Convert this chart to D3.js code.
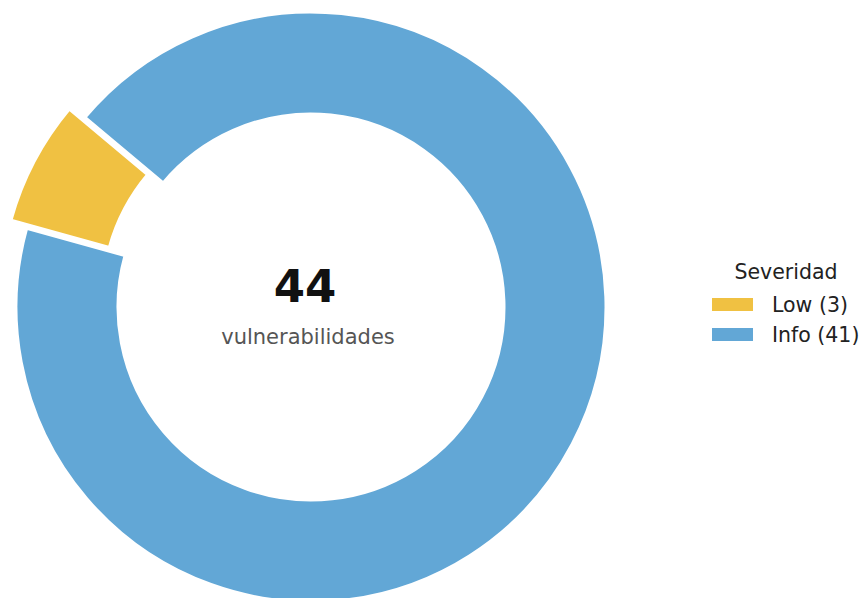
<!DOCTYPE html>
<html>
<head>
<meta charset="utf-8">
<script src="https://cdn.jsdelivr.net/npm/d3@7"></script>
<style>
  body { margin: 0; background: #fff; }
  svg { display: block; font-family: "DejaVu Sans", sans-serif; }
</style>
</head>
<body>
<div id="chart"></div>
<script>
// severity breakdown for the donut
var categories = ['Low', 'Info'];
var counts = [3, 41];
var colors = ['#f0c142', '#62a7d6'];
var legendTitle = 'Severidad';
var centerLabel = 'vulnerabilidades';

var width = 866, height = 598;
var cx = 311, cy = 307;
var outerR = 295, innerR = 193;
var explode = [0.06, 0];

var svg = d3.select('#chart').append('svg')
  .attr('width', width)
  .attr('height', height);

var data = categories.map(function(c, i) {
  return { name: c, value: counts[i], color: colors[i], explode: explode[i] };
});

// start at 140deg (ccw from +x), running counter-clockwise
var start = (90 - 140) * Math.PI / 180;
var pie = d3.pie()
  .sort(null)
  .value(function(d) { return d.value; })
  .startAngle(start)
  .endAngle(start - 2 * Math.PI);

var arc = d3.arc()
  .innerRadius(innerR)
  .outerRadius(outerR);

var g = svg.append('g').attr('transform', 'translate(' + cx + ',' + cy + ')');

g.selectAll('path')
  .data(pie(data))
  .enter()
  .append('path')
  .attr('d', arc)
  .attr('fill', function(d) { return d.data.color; })
  .attr('stroke', '#fff')
  .attr('stroke-width', 3)
  .attr('transform', function(d) {
    var mid = (d.startAngle + d.endAngle) / 2;
    var off = d.data.explode * outerR;
    return 'translate(' + (off * Math.sin(mid)) + ',' + (-off * Math.cos(mid)) + ')';
  });

var total = d3.sum(counts);

svg.append('text')
  .attr('x', 305)
  .attr('y', 302)
  .attr('text-anchor', 'middle')
  .attr('font-size', 45)
  .attr('font-weight', 'bold')
  .attr('fill', '#111')
  .text(total);

svg.append('text')
  .attr('x', 308)
  .attr('y', 344)
  .attr('text-anchor', 'middle')
  .attr('font-size', 21)
  .attr('fill', '#555')
  .text(centerLabel);

// legend
var legend = svg.append('g').attr('transform', 'translate(712,0)');

legend.append('text')
  .attr('x', 74)
  .attr('y', 279)
  .attr('text-anchor', 'middle')
  .attr('font-size', 20.5)
  .attr('fill', '#222')
  .text(legendTitle);

var items = legend.selectAll('g.item')
  .data(data)
  .enter()
  .append('g')
  .attr('class', 'item')
  .attr('transform', function(d, i) { return 'translate(0,' + (298 + i * 30) + ')'; });

items.append('rect')
  .attr('width', 41)
  .attr('height', 13)
  .attr('fill', function(d) { return d.color; });

items.append('text')
  .attr('x', 60)
  .attr('y', 14)
  .attr('font-size', 20.5)
  .attr('fill', '#222')
  .text(function(d) { return d.name + ' (' + d.value + ')'; });
</script>
</body>
</html>
